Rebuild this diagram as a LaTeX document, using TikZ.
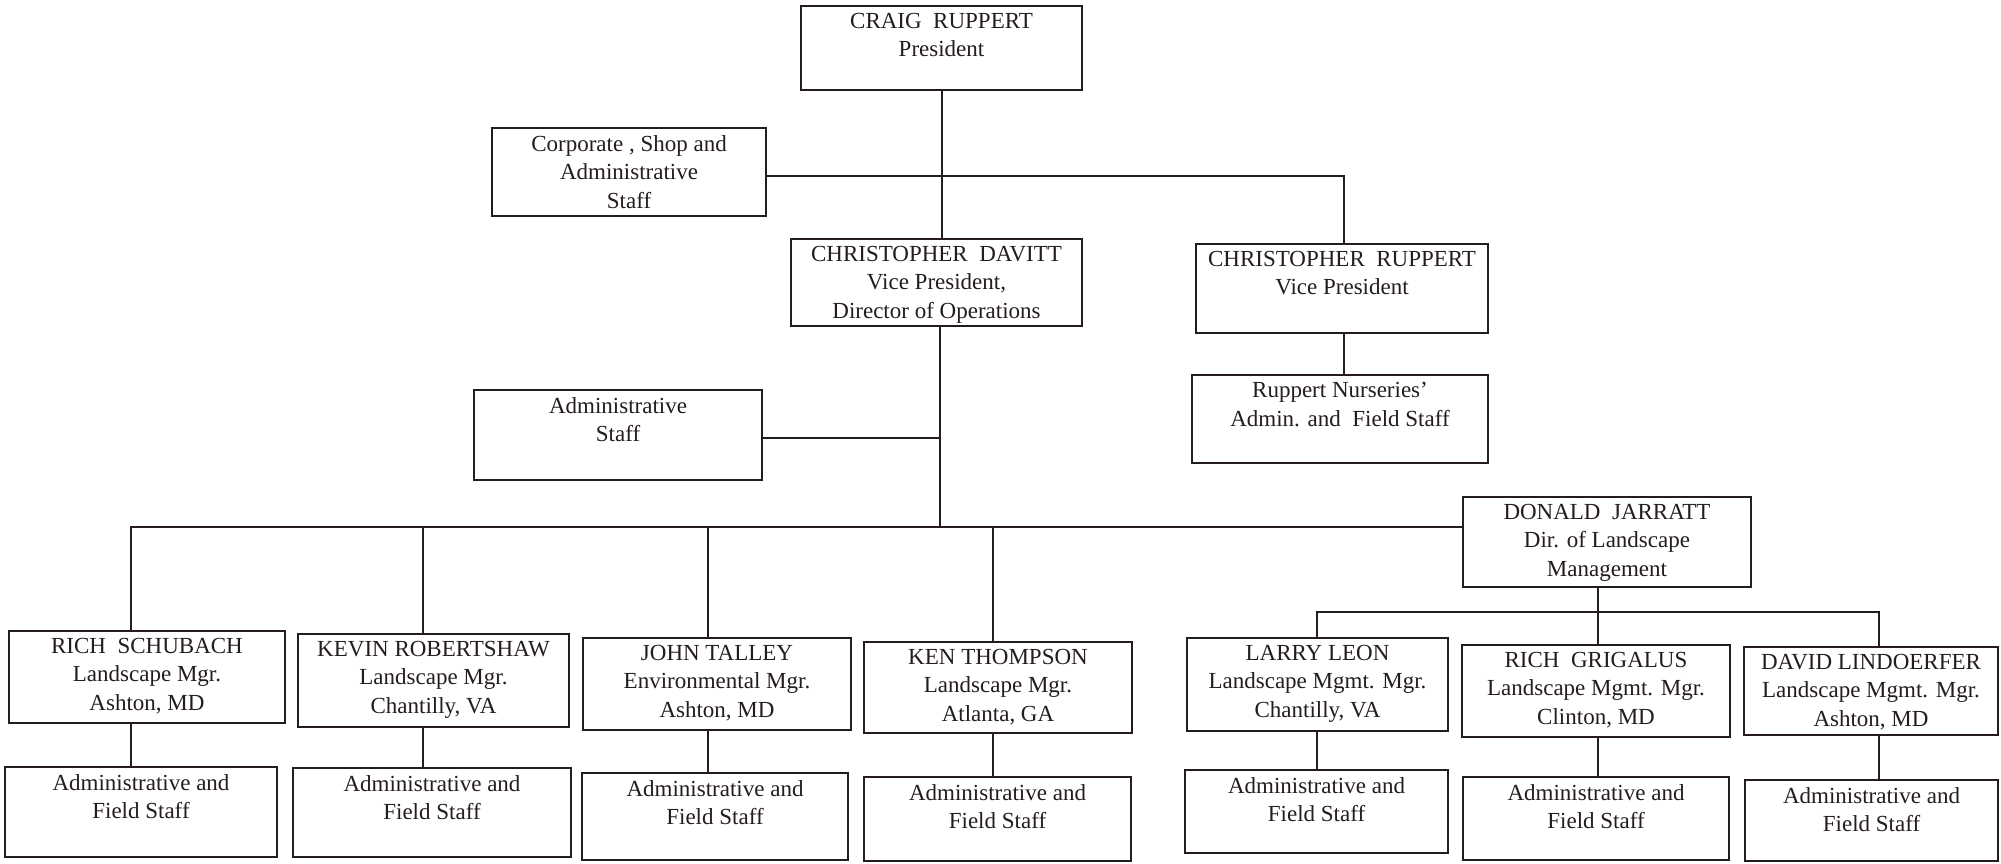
\documentclass[tikz,border=0pt]{standalone}
\usepackage{fontspec}
\setmainfont{Liberation Serif}
\definecolor{ink}{RGB}{36,28,34}
\newcommand\orgbox[6]{%
  \node[box,minimum width={(#4-#2)*1pt},minimum height={(#5-#3)*1pt}] (#1) at (#2,#3) {};
  \node[txt] (#1t) at ([yshift=-7pt]#1.north) {#6};}
\begin{document}
\begin{tikzpicture}[x=1pt,y=-1pt,
  box/.style={draw=ink,line width=1.6pt,rectangle,inner sep=0pt,outer sep=0pt,anchor=north west},
  txt/.style={text=ink,font=\fontsize{23}{28.5}\selectfont,align=center,inner sep=0pt,anchor=north},
  conn/.style={draw=ink,line width=1.3pt}]
\useasboundingbox (0,0) rectangle (2001,863);
\fill[white] (0,0) rectangle (2001,863);

\orgbox{craig}{801}{6}{1082}{90}{CRAIG~ RUPPERT\\President}
\orgbox{corp}{492}{128}{766}{216}{Corporate , Shop and\\Administrative\\Staff}
\orgbox{davitt}{791}{239}{1082}{326}{CHRISTOPHER~ DAVITT\\Vice President,\\Director of Operations}
\orgbox{cruppert}{1196}{244}{1488}{333}{CHRISTOPHER~ RUPPERT\\Vice President}
\orgbox{nurs}{1192}{375}{1488}{463}{Ruppert Nurseries'\\Admin. and~ Field Staff}
\orgbox{admin}{474}{390}{762}{480}{Administrative\\Staff}
\orgbox{donald}{1463}{497}{1751}{587}{DONALD~ JARRATT\\Dir. of Landscape\\Management}

\orgbox{schubach}{9}{631}{285}{723}{RICH~ SCHUBACH\\Landscape Mgr.\\Ashton, MD}
\orgbox{kevin}{298}{634}{569}{727}{KEVIN ROBERTSHAW\\Landscape Mgr.\\Chantilly, VA}
\orgbox{talley}{583}{638}{851}{730}{JOHN TALLEY\\Environmental Mgr.\\Ashton, MD}
\orgbox{thompson}{864}{642}{1132}{733}{KEN THOMPSON\\Landscape Mgr.\\Atlanta, GA}
\orgbox{leon}{1187}{638}{1448}{731}{LARRY LEON\\Landscape Mgmt. Mgr.\\Chantilly, VA}
\orgbox{grigalus}{1462}{645}{1730}{737}{RICH~ GRIGALUS\\Landscape Mgmt. Mgr.\\Clinton, MD}
\orgbox{david}{1744}{647}{1998}{735}{DAVID LINDOERFER\\Landscape Mgmt. Mgr.\\Ashton, MD}

\orgbox{schubachS}{5}{767}{277}{857}{Administrative and\\Field Staff}
\orgbox{kevinS}{293}{768}{571}{857}{Administrative and\\Field Staff}
\orgbox{talleyS}{582}{773}{848}{860}{Administrative and\\Field Staff}
\orgbox{thompsonS}{864}{777}{1131}{861}{Administrative and\\Field Staff}
\orgbox{leonS}{1185}{770}{1448}{853}{Administrative and\\Field Staff}
\orgbox{grigalusS}{1463}{777}{1729}{860}{Administrative and\\Field Staff}
\orgbox{davidS}{1745}{780}{1998}{861}{Administrative and\\Field Staff}

% top level
\coordinate (j1) at (942,176);
\coordinate (j2) at (1344,176);
\draw[conn] (craig.south -| j1) -- (davitt.north -| j1);
\draw[conn] (corp.east |- j2) -- (j2) -- (cruppert.north -| j2);
\draw[conn] (cruppert.south -| j2) -- (nurs.north -| j2);
% Davitt branch
\coordinate (j3) at (940,438);
\coordinate (j4) at (940,527);
\draw[conn] (davitt.south -| j4) -- (j4);
\draw[conn] (admin.east |- j3) -- (j3);
\coordinate (d1) at (131,527);
\coordinate (d2) at (423,527);
\coordinate (d3) at (708,527);
\coordinate (d4) at (993,527);
\draw[conn] (schubach.north -| d1) -- (d1) -- (donald.west |- d1);
\draw[conn] (d2) -- (kevin.north -| d2);
\draw[conn] (d3) -- (talley.north -| d3);
\draw[conn] (d4) -- (thompson.north -| d4);
% Jarratt branch
\coordinate (e1) at (1317,612);
\coordinate (e2) at (1598,612);
\coordinate (e3) at (1879,612);
\draw[conn] (donald.south -| e2) -- (grigalus.north -| e2);
\draw[conn] (leon.north -| e1) -- (e1) -- (e3) -- (david.north -| e3);
% managers to staff
\draw[conn] (schubach.south -| d1) -- (schubachS.north -| d1);
\draw[conn] (kevin.south -| d2) -- (kevinS.north -| d2);
\draw[conn] (talley.south -| d3) -- (talleyS.north -| d3);
\draw[conn] (thompson.south -| d4) -- (thompsonS.north -| d4);
\draw[conn] (leon.south -| e1) -- (leonS.north -| e1);
\draw[conn] (grigalus.south -| e2) -- (grigalusS.north -| e2);
\draw[conn] (david.south -| e3) -- (davidS.north -| e3);
\end{tikzpicture}
\end{document}
